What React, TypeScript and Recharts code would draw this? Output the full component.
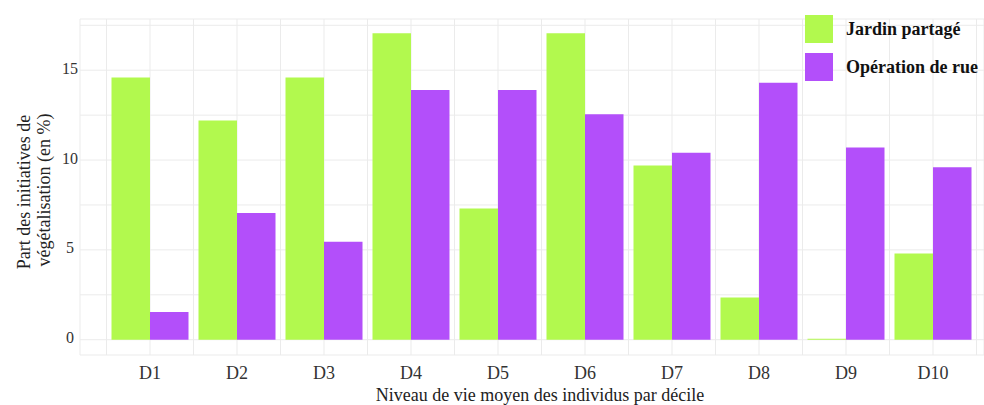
import { Bar, BarChart, CartesianGrid, XAxis, YAxis } from "recharts";

const deciles = ["D1", "D2", "D3", "D4", "D5", "D6", "D7", "D8", "D9", "D10"];
const jardinPartage = [14.6, 12.2, 14.6, 17.05, 7.3, 17.05, 9.7, 2.35, 0, 4.8];
const operationDeRue = [1.55, 7.05, 5.45, 13.9, 13.9, 12.55, 10.4, 14.3, 10.7, 9.6];
const seriesNames = ["Jardin partagé", "Opération de rue"];
const seriesColors = ["#b2f94e", "#b34ffa"];
const yTicks = [0, 2.5, 5, 7.5, 10, 12.5, 15, 17.5]; // labelled every 5, grid every 2.5
const yDomain = [-0.85, 17.85];

const data = deciles.map((d, i) => ({ idx: i, decile: d, jardin: jardinPartage[i], rue: operationDeRue[i] }));
// vertical grid at decile centres and half-way between them
const xTicks = deciles.flatMap((_, i) => [i - 0.5, i]).concat(deciles.length - 0.5);

const font = '"Liberation Serif", "Times New Roman", serif';
const W = 984;
const H = 405;
const plotLeft = 80;
const firstCenter = 150;
const band = 87;

function YTitle() {
  return (
    <g fill="#222" fontSize={18} fontFamily={font} textAnchor="middle">
      <text transform="translate(30,192) rotate(-90)">Part des initiatives de</text>
      <text transform="translate(50,190) rotate(-90)">végétalisation (en %)</text>
    </g>
  );
}

function XTitle() {
  return (
    <text x={540} y={401} fill="#222" fontSize={18} fontFamily={font} textAnchor="middle">
      Niveau de vie moyen des individus par décile
    </text>
  );
}

function YTick({ y, payload }: any) {
  const v = payload.value as number;
  if (v % 5 !== 0) return null;
  return (
    <text x={70} y={y - 2} dy="0.35em" textAnchor="middle" fill="#333" fontSize={16} fontFamily={font}>
      {v}
    </text>
  );
}

function XTick({ x, y, payload }: any) {
  const v = payload.value as number;
  if (!Number.isInteger(v)) return null;
  return (
    <text x={x} y={y} dy="0.71em" textAnchor="middle" fill="#333" fontSize={18} fontFamily={font}>
      {deciles[v]}
    </text>
  );
}

export default function App() {
  return (
    <div style={{ position: "relative", width: W, height: H, background: "#fff", fontFamily: font }}>
      <style>{"body{margin:0}"}</style>
      <BarChart
        width={W}
        height={H}
        data={data}
        barGap={0}
        margin={{ top: 19, right: 0, bottom: 20, left: 0 }}
      >
        <CartesianGrid stroke="#ebebeb" strokeWidth={1} />
        <XAxis
          dataKey="idx"
          type="number"
          domain={[(plotLeft - firstCenter) / band, (W - firstCenter) / band]}
          allowDataOverflow
          ticks={xTicks}
          height={30}
          axisLine={false}
          tickLine={false}
          tickSize={9}
          tick={<XTick />}
          interval={0}
          label={{ content: () => <XTitle /> }}
        />
        <YAxis
          width={80}
          type="number"
          domain={yDomain}
          allowDataOverflow
          ticks={yTicks}
          axisLine={false}
          tickLine={false}
          interval={0}
          tick={<YTick />}
          label={{ content: () => <YTitle /> }}
        />
        <Bar dataKey="jardin" name={seriesNames[0]} fill={seriesColors[0]} barSize={38.5} minPointSize={1} isAnimationActive={false} />
        <Bar dataKey="rue" name={seriesNames[1]} fill={seriesColors[1]} barSize={38.5} isAnimationActive={false} />
      </BarChart>
      <div style={{ position: "absolute", left: 805, top: 15 }}>
        {seriesNames.map((name, i) => (
          <div key={name} style={{ display: "flex", alignItems: "center", height: 28, marginBottom: 10 }}>
            <div style={{ width: 28, height: 28, background: seriesColors[i], marginRight: 13 }} />
            <span style={{ fontWeight: "bold", fontSize: 18, color: "#111", whiteSpace: "nowrap" }}>{name}</span>
          </div>
        ))}
      </div>
    </div>
  );
}
